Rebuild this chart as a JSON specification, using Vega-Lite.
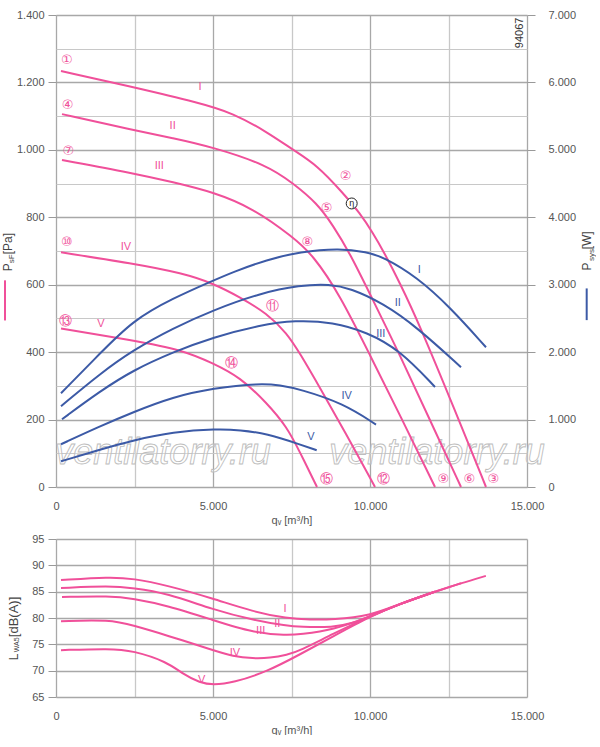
{
  "$schema": "https://vega.github.io/schema/vega-lite/v6.json",
  "background": "white",
  "padding": {"left": 2, "top": 9, "right": 0, "bottom": 0},
  "bounds": "flush",
  "spacing": 52,
  "config": {
    "font": "Liberation Sans",
    "view": {"stroke": null},
    "axis": {
      "labelFont": "Liberation Sans",
      "labelFontSize": 11,
      "labelColor": "#555",
      "titleFont": "Liberation Sans",
      "titleFontSize": 11,
      "titleFontWeight": "normal",
      "titleColor": "#555",
      "tickColor": "#999",
      "domain": false,
      "labelFlush": false,
      "labelOverlap": false
    }
  },
  "datasets": {
    "pressure": [
      {"curve": "I", "q": 159, "p": 1234}, {"curve": "I", "q": 2452, "p": 1186}, {"curve": "I", "q": 4586, "p": 1139},
      {"curve": "I", "q": 5637, "p": 1109}, {"curve": "I", "q": 6720, "p": 1053}, {"curve": "I", "q": 7548, "p": 1000},
      {"curve": "I", "q": 8312, "p": 955}, {"curve": "I", "q": 9140, "p": 872}, {"curve": "I", "q": 9682, "p": 812},
      {"curve": "I", "q": 10096, "p": 753}, {"curve": "I", "q": 10414, "p": 702}, {"curve": "I", "q": 10955, "p": 605},
      {"curve": "I", "q": 11592, "p": 478}, {"curve": "I", "q": 12707, "p": 227}, {"curve": "I", "q": 13694, "p": 0},
      {"curve": "II", "q": 191, "p": 1106}, {"curve": "II", "q": 2452, "p": 1059}, {"curve": "II", "q": 3726, "p": 1035},
      {"curve": "II", "q": 5000, "p": 1008}, {"curve": "II", "q": 6720, "p": 955}, {"curve": "II", "q": 7548, "p": 901},
      {"curve": "II", "q": 8312, "p": 842}, {"curve": "II", "q": 8822, "p": 776}, {"curve": "II", "q": 9363, "p": 693},
      {"curve": "II", "q": 10096, "p": 554}, {"curve": "II", "q": 10955, "p": 391}, {"curve": "II", "q": 11911, "p": 198},
      {"curve": "II", "q": 12898, "p": 0},
      {"curve": "III", "q": 191, "p": 970}, {"curve": "III", "q": 2452, "p": 931}, {"curve": "III", "q": 3726, "p": 904},
      {"curve": "III", "q": 5000, "p": 875}, {"curve": "III", "q": 6274, "p": 827}, {"curve": "III", "q": 7548, "p": 741},
      {"curve": "III", "q": 8185, "p": 688}, {"curve": "III", "q": 9045, "p": 569}, {"curve": "III", "q": 10000, "p": 391},
      {"curve": "III", "q": 10955, "p": 213}, {"curve": "III", "q": 12070, "p": 0},
      {"curve": "IV", "q": 159, "p": 696}, {"curve": "IV", "q": 2452, "p": 663}, {"curve": "IV", "q": 4045, "p": 634},
      {"curve": "IV", "q": 5000, "p": 604}, {"curve": "IV", "q": 5860, "p": 563}, {"curve": "IV", "q": 6720, "p": 515},
      {"curve": "IV", "q": 7357, "p": 456}, {"curve": "IV", "q": 7771, "p": 396}, {"curve": "IV", "q": 8408, "p": 294},
      {"curve": "IV", "q": 9204, "p": 163}, {"curve": "IV", "q": 10159, "p": 0},
      {"curve": "V", "q": 159, "p": 470}, {"curve": "V", "q": 2452, "p": 435}, {"curve": "V", "q": 4045, "p": 406},
      {"curve": "V", "q": 5000, "p": 367}, {"curve": "V", "q": 5860, "p": 326}, {"curve": "V", "q": 6720, "p": 249},
      {"curve": "V", "q": 7357, "p": 178}, {"curve": "V", "q": 7771, "p": 103}, {"curve": "V", "q": 8312, "p": 0}
    ],
    "power": [
      {"curve": "I", "q": 159, "w": 1391}, {"curve": "I", "q": 1401, "w": 1980}, {"curve": "I", "q": 2452, "w": 2473},
      {"curve": "I", "q": 3726, "w": 2800}, {"curve": "I", "q": 5000, "w": 3060}, {"curve": "I", "q": 5647, "w": 3190},
      {"curve": "I", "q": 6710, "w": 3370}, {"curve": "I", "q": 7771, "w": 3490}, {"curve": "I", "q": 9045, "w": 3542},
      {"curve": "I", "q": 9904, "w": 3483}, {"curve": "I", "q": 10414, "w": 3413}, {"curve": "I", "q": 11486, "w": 3117},
      {"curve": "I", "q": 12548, "w": 2667}, {"curve": "I", "q": 13694, "w": 2073},
      {"curve": "II", "q": 159, "w": 1198}, {"curve": "II", "q": 1401, "w": 1680}, {"curve": "II", "q": 2452, "w": 2029},
      {"curve": "II", "q": 3726, "w": 2355}, {"curve": "II", "q": 5000, "w": 2622}, {"curve": "II", "q": 6497, "w": 2874},
      {"curve": "II", "q": 7771, "w": 2993}, {"curve": "II", "q": 8726, "w": 3007}, {"curve": "II", "q": 9363, "w": 2948},
      {"curve": "II", "q": 10414, "w": 2726}, {"curve": "II", "q": 11497, "w": 2370}, {"curve": "II", "q": 12898, "w": 1777},
      {"curve": "III", "q": 191, "w": 1005}, {"curve": "III", "q": 1401, "w": 1420}, {"curve": "III", "q": 2452, "w": 1731},
      {"curve": "III", "q": 3726, "w": 2000}, {"curve": "III", "q": 5000, "w": 2221}, {"curve": "III", "q": 6497, "w": 2400},
      {"curve": "III", "q": 7612, "w": 2474}, {"curve": "III", "q": 8822, "w": 2444}, {"curve": "III", "q": 9904, "w": 2296},
      {"curve": "III", "q": 10955, "w": 2029}, {"curve": "III", "q": 12070, "w": 1484},
      {"curve": "IV", "q": 159, "w": 634}, {"curve": "IV", "q": 1401, "w": 900}, {"curve": "IV", "q": 2452, "w": 1109},
      {"curve": "IV", "q": 3726, "w": 1336}, {"curve": "IV", "q": 5000, "w": 1465}, {"curve": "IV", "q": 6497, "w": 1539},
      {"curve": "IV", "q": 7134, "w": 1510}, {"curve": "IV", "q": 7771, "w": 1450}, {"curve": "IV", "q": 9140, "w": 1242},
      {"curve": "IV", "q": 10191, "w": 926},
      {"curve": "V", "q": 159, "w": 381}, {"curve": "V", "q": 1401, "w": 555}, {"curve": "V", "q": 2452, "w": 693},
      {"curve": "V", "q": 3726, "w": 816}, {"curve": "V", "q": 5117, "w": 862}, {"curve": "V", "q": 5860, "w": 845},
      {"curve": "V", "q": 6710, "w": 792}, {"curve": "V", "q": 7771, "w": 630}, {"curve": "V", "q": 8302, "w": 545}
    ],
    "sound": [
      {"curve": "I", "q": 159, "db": 87.2}, {"curve": "I", "q": 1720, "db": 87.8}, {"curve": "I", "q": 2452, "db": 87.5},
      {"curve": "I", "q": 3535, "db": 86.2}, {"curve": "I", "q": 5000, "db": 83.7}, {"curve": "I", "q": 6274, "db": 81.2},
      {"curve": "I", "q": 7357, "db": 79.9}, {"curve": "I", "q": 8089, "db": 79.7}, {"curve": "I", "q": 8822, "db": 79.7},
      {"curve": "I", "q": 10000, "db": 80.4}, {"curve": "I", "q": 10955, "db": 82.7}, {"curve": "I", "q": 12070, "db": 85.0},
      {"curve": "I", "q": 12898, "db": 86.6}, {"curve": "I", "q": 13690, "db": 88.0},
      {"curve": "II", "q": 159, "db": 85.7}, {"curve": "II", "q": 1720, "db": 86.1}, {"curve": "II", "q": 2452, "db": 85.7},
      {"curve": "II", "q": 3535, "db": 84.7}, {"curve": "II", "q": 5000, "db": 81.6}, {"curve": "II", "q": 6274, "db": 79.6},
      {"curve": "II", "q": 7357, "db": 78.5}, {"curve": "II", "q": 7771, "db": 78.3}, {"curve": "II", "q": 8822, "db": 78.2},
      {"curve": "II", "q": 9459, "db": 79.0}, {"curve": "II", "q": 10000, "db": 80.3}, {"curve": "II", "q": 10955, "db": 82.7},
      {"curve": "II", "q": 12070, "db": 85.0}, {"curve": "II", "q": 12898, "db": 86.6},
      {"curve": "III", "q": 191, "db": 84.0}, {"curve": "III", "q": 1720, "db": 84.2}, {"curve": "III", "q": 2452, "db": 83.7},
      {"curve": "III", "q": 3535, "db": 82.4}, {"curve": "III", "q": 5000, "db": 79.6}, {"curve": "III", "q": 6274, "db": 77.2},
      {"curve": "III", "q": 7357, "db": 76.7}, {"curve": "III", "q": 7771, "db": 76.9}, {"curve": "III", "q": 8822, "db": 77.7},
      {"curve": "III", "q": 10000, "db": 80.3}, {"curve": "III", "q": 10955, "db": 82.7}, {"curve": "III", "q": 12070, "db": 85.0},
      {"curve": "IV", "q": 159, "db": 79.4}, {"curve": "IV", "q": 1720, "db": 79.7}, {"curve": "IV", "q": 2452, "db": 78.6},
      {"curve": "IV", "q": 3535, "db": 76.7}, {"curve": "IV", "q": 5000, "db": 73.9}, {"curve": "IV", "q": 5637, "db": 72.7},
      {"curve": "IV", "q": 6274, "db": 72.3}, {"curve": "IV", "q": 6816, "db": 72.4}, {"curve": "IV", "q": 7357, "db": 73.0},
      {"curve": "IV", "q": 7771, "db": 73.8}, {"curve": "IV", "q": 8822, "db": 77.0}, {"curve": "IV", "q": 10000, "db": 80.3},
      {"curve": "IV", "q": 10955, "db": 82.7}, {"curve": "IV", "q": 12070, "db": 85.0},
      {"curve": "V", "q": 159, "db": 73.9}, {"curve": "V", "q": 1720, "db": 74.2}, {"curve": "V", "q": 2452, "db": 73.8},
      {"curve": "V", "q": 3535, "db": 71.7}, {"curve": "V", "q": 4054, "db": 69.3}, {"curve": "V", "q": 4586, "db": 67.7},
      {"curve": "V", "q": 5000, "db": 67.3}, {"curve": "V", "q": 5637, "db": 67.7}, {"curve": "V", "q": 6720, "db": 69.8},
      {"curve": "V", "q": 7771, "db": 73.1}, {"curve": "V", "q": 8822, "db": 76.5}, {"curve": "V", "q": 10000, "db": 80.3},
      {"curve": "V", "q": 10955, "db": 82.7}, {"curve": "V", "q": 12070, "db": 85.0}
    ],
    "pressureLabels": [
      {"t": "I", "q": 4586, "p": 1185}, {"t": "II", "q": 3716, "p": 1071}, {"t": "III", "q": 3290, "p": 953},
      {"t": "IV", "q": 2229, "p": 712}, {"t": "V", "q": 1433, "p": 483}
    ],
    "powerLabels": [
      {"t": "I", "q": 11571, "w": 3216}, {"t": "II", "q": 10882, "w": 2731}, {"t": "III", "q": 10341, "w": 2262},
      {"t": "IV", "q": 9258, "w": 1351}, {"t": "V", "q": 8121, "w": 742}
    ],
    "soundLabels": [
      {"t": "I", "q": 7293, "db": 81.8}, {"t": "II", "q": 7049, "db": 78.8}, {"t": "III", "q": 6519, "db": 77.5},
      {"t": "IV", "q": 5701, "db": 73.4}, {"t": "V", "q": 4640, "db": 68.3}
    ],
    "points": [
      {"t": "①", "q": 341, "p": 1266}, {"t": "②", "q": 9226, "p": 923}, {"t": "③", "q": 13928, "p": 25},
      {"t": "④", "q": 372, "p": 1132}, {"t": "⑤", "q": 8620, "p": 829}, {"t": "⑥", "q": 13164, "p": 25},
      {"t": "⑦", "q": 392, "p": 997}, {"t": "⑧", "q": 8004, "p": 727}, {"t": "⑨", "q": 12336, "p": 25},
      {"t": "⑩", "q": 341, "p": 727}, {"t": "⑪", "q": 6900, "p": 537}, {"t": "⑫", "q": 10424, "p": 25},
      {"t": "⑬", "q": 309, "p": 492}, {"t": "⑭", "q": 5595, "p": 369}, {"t": "⑮", "q": 8599, "p": 25}
    ],
    "eta": [{"t": "η", "q": 9417, "p": 841}],
    "code": [{"t": "94067", "q": 14777, "p": 1347}],
    "watermark": [{"t": "ventilatorry.ru", "q": 3408, "p": 100}, {"t": "ventilatorry.ru", "q": 12134, "p": 100}],
    "titleBig": [
      {"t": "P", "q": -1401, "p": 640}, {"t": "[Pa]", "q": -1401, "p": 690},
      {"t": "P", "q": 17038, "p": 642}, {"t": "[W]", "q": 17038, "p": 705}
    ],
    "titleSmall": [
      {"t": "sF", "q": -1322, "p": 664}, {"t": "sys", "q": 17118, "p": 670}
    ],
    "keyPink": [{"q": -1624, "p": 494, "p2": 613}],
    "keyBlue": [{"q": 16901, "p": 495, "p2": 589}],
    "soundTitleL": [{"t": "L", "q": -1226, "db": 71.98}],
    "soundTitleUnit": [{"t": "[dB(A)]", "q": -1226, "db": 76.36}],
    "soundTitleSmall": [{"t": "WA5", "q": -1194, "db": 73.5}]
  },
  "vconcat": [
    {
      "width": 471,
      "height": 472,
      "encoding": {
        "x": {
          "field": "q",
          "type": "quantitative",
          "scale": {"domain": [0, 15000], "nice": false, "zero": false},
          "axis": {
            "values": [0, 2500, 5000, 7500, 10000, 12500, 15000],
            "labelExpr": "datum.value % 5000 === 0 ? replace(format(datum.value, ','), ',', '.') : ''",
            "ticks": false,
            "tickSize": 0,
            "labelPadding": 13,
            "title": "qᵥ [m³/h]",
            "titlePadding": 3,
            "gridColor": {"condition": {"test": "datum.value % 5000 === 0", "value": "#a8a8a8"}, "value": "#c8c8c8"},
            "gridWidth": 1.3
          }
        }
      },
      "layer": [
        {
          "encoding": {
            "y": {
              "field": "p",
              "type": "quantitative",
              "scale": {"domain": [0, 1400], "nice": false, "zero": false},
              "axis": {
                "orient": "left",
                "values": [0, 100, 200, 300, 400, 500, 600, 700, 800, 900, 1000, 1100, 1200, 1300, 1400],
                "labelExpr": "datum.value % 200 === 0 ? replace(format(datum.value, ','), ',', '.') : ''",
                "title": null,
                "tickSize": 8,
                "tickOpacity": {"condition": {"test": "datum.value % 200 === 0", "value": 1}, "value": 0},
                "labelPadding": 4,
                "gridColor": {"condition": {"test": "datum.value % 200 === 0", "value": "#a8a8a8"}, "value": "#c8c8c8"},
                "gridWidth": {"condition": {"test": "datum.value % 200 === 0", "value": 1.6}, "value": 1.1}
              }
            }
          },
          "layer": [
            {
              "data": {"name": "watermark"},
              "mark": {"type": "text", "fontSize": 36, "fontStyle": "italic", "fill": "#ffffff", "fillOpacity": 0.3, "stroke": "#bdbdbd", "strokeWidth": 0.9},
              "encoding": {"text": {"field": "t"}}
            },
            {
              "data": {"name": "pressure"},
              "mark": {"type": "line", "color": "#f0509a", "strokeWidth": 2, "interpolate": "basis"},
              "encoding": {"detail": {"field": "curve"}}
            },
            {
              "data": {"name": "pressureLabels"},
              "mark": {"type": "text", "color": "#f0509a", "fontSize": 11},
              "encoding": {"text": {"field": "t"}}
            },
            {
              "data": {"name": "points"},
              "mark": {"type": "text", "color": "#f0509a", "fontSize": 13, "font": "DejaVu Sans"},
              "encoding": {"text": {"field": "t"}}
            },
            {
              "data": {"name": "eta"},
              "mark": {"type": "point", "shape": "circle", "size": 120, "filled": true, "fill": "#ffffff", "stroke": "#222222", "strokeWidth": 1, "opacity": 1},
              "encoding": {}
            },
            {
              "data": {"name": "eta"},
              "mark": {"type": "text", "color": "#222222", "fontSize": 9},
              "encoding": {"text": {"field": "t"}}
            },
            {
              "data": {"name": "code"},
              "mark": {"type": "text", "color": "#333333", "fontSize": 11, "angle": 270},
              "encoding": {"text": {"field": "t"}}
            },
            {
              "data": {"name": "titleBig"},
              "mark": {"type": "text", "color": "#444444", "fontSize": 12, "angle": 270, "align": "left", "baseline": "alphabetic"},
              "encoding": {"text": {"field": "t"}}
            },
            {
              "data": {"name": "titleSmall"},
              "mark": {"type": "text", "color": "#444444", "fontSize": 8, "angle": 270, "align": "left", "baseline": "alphabetic"},
              "encoding": {"text": {"field": "t"}}
            },
            {
              "data": {"name": "keyPink"},
              "mark": {"type": "rule", "color": "#f0509a", "strokeWidth": 2},
              "encoding": {"y2": {"field": "p2"}}
            },
            {
              "data": {"name": "keyBlue"},
              "mark": {"type": "rule", "color": "#3c5aa6", "strokeWidth": 2},
              "encoding": {"y2": {"field": "p2"}}
            }
          ]
        },
        {
          "encoding": {
            "y": {
              "field": "w",
              "type": "quantitative",
              "scale": {"domain": [0, 7000], "nice": false, "zero": false},
              "axis": {
                "orient": "right",
                "values": [0, 1000, 2000, 3000, 4000, 5000, 6000, 7000],
                "labelExpr": "replace(format(datum.value, ','), ',', '.')",
                "title": null,
                "grid": false,
                "tickSize": 8,
                "labelPadding": 13
              }
            }
          },
          "layer": [
            {
              "data": {"name": "power"},
              "mark": {"type": "line", "color": "#3c5aa6", "strokeWidth": 2, "interpolate": "basis"},
              "encoding": {"detail": {"field": "curve"}}
            },
            {
              "data": {"name": "powerLabels"},
              "mark": {"type": "text", "color": "#3c5aa6", "fontSize": 11},
              "encoding": {"text": {"field": "t"}}
            }
          ]
        }
      ],
      "resolve": {"scale": {"y": "independent"}}
    },
    {
      "width": 471,
      "height": 158,
      "encoding": {
        "x": {
          "field": "q",
          "type": "quantitative",
          "scale": {"domain": [0, 15000], "nice": false, "zero": false},
          "axis": {
            "values": [0, 2500, 5000, 7500, 10000, 12500, 15000],
            "labelExpr": "datum.value % 5000 === 0 ? replace(format(datum.value, ','), ',', '.') : ''",
            "ticks": false,
            "tickSize": 0,
            "labelPadding": 13,
            "title": "qᵥ [m³/h]",
            "titlePadding": 3,
            "gridColor": {"condition": {"test": "datum.value % 5000 === 0", "value": "#a8a8a8"}, "value": "#c8c8c8"},
            "gridWidth": 1.3
          }
        },
        "y": {
          "field": "db",
          "type": "quantitative",
          "scale": {"domain": [65, 95], "nice": false, "zero": false},
          "axis": {
            "values": [65, 70, 75, 80, 85, 90, 95],
            "title": null,
            "tickSize": 8,
            "labelPadding": 4,
            "gridColor": "#a8a8a8",
            "gridWidth": 1.4
          }
        }
      },
      "layer": [
        {
          "data": {"name": "sound"},
          "mark": {"type": "line", "color": "#f0509a", "strokeWidth": 2, "interpolate": "basis"},
          "encoding": {"detail": {"field": "curve"}}
        },
        {
          "data": {"name": "soundLabels"},
          "mark": {"type": "text", "color": "#f0509a", "fontSize": 11},
          "encoding": {"text": {"field": "t"}}
        },
        {
          "data": {"name": "soundTitleL"},
          "mark": {"type": "text", "color": "#444444", "fontSize": 12, "angle": 270, "align": "left", "baseline": "alphabetic"},
          "encoding": {"text": {"field": "t"}}
        },
        {
          "data": {"name": "soundTitleUnit"},
          "mark": {"type": "text", "color": "#444444", "fontSize": 13, "angle": 270, "align": "left", "baseline": "alphabetic"},
          "encoding": {"text": {"field": "t"}}
        },
        {
          "data": {"name": "soundTitleSmall"},
          "mark": {"type": "text", "color": "#444444", "fontSize": 7, "angle": 270, "align": "left", "baseline": "alphabetic"},
          "encoding": {"text": {"field": "t"}}
        }
      ]
    }
  ]
}
